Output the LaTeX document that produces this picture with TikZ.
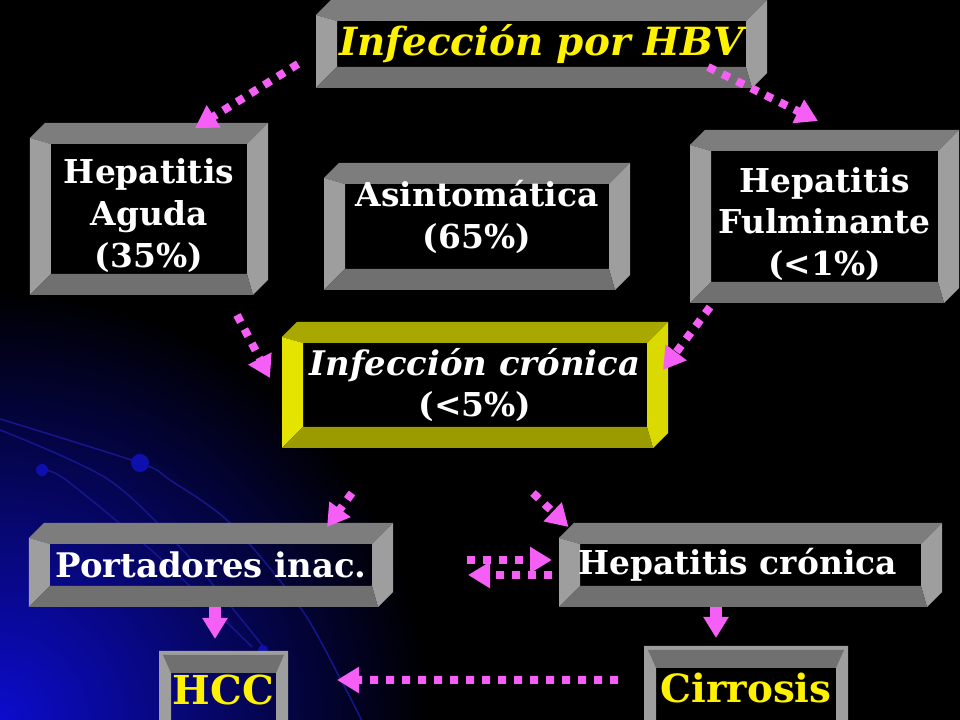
\documentclass[tikz,border=0pt]{standalone}
\usepackage{fontspec}
\setmainfont{DejaVu Serif}
\usetikzlibrary{arrows.meta,calc}

\definecolor{hbvpink}{RGB}{245,95,245}
\definecolor{bgblue}{RGB}{12,12,205}
\definecolor{orbitblue}{RGB}{22,22,140}
\definecolor{frametop}{RGB}{125,125,125}
\definecolor{frameside}{RGB}{158,158,158}
\definecolor{framebottom}{RGB}{112,112,112}
\definecolor{goldtop}{RGB}{168,168,0}
\definecolor{goldleft}{RGB}{228,228,0}
\definecolor{goldright}{RGB}{218,218,0}
\definecolor{goldbottom}{RGB}{155,155,0}

\newcommand{\cubedepth}{15}
\newcommand{\cubeband}{21}

% hollow box seen from the upper right
\newcommand{\cubeframe}[4]{%
  \coordinate (p1) at (path picture bounding box.north west);
  \coordinate (p2) at (path picture bounding box.south east);
  \coordinate (h1) at ($(p1)+(\cubeband,-\cubeband)$);
  \coordinate (h2) at ($(p2)+(-\cubeband,\cubeband)$);
  \fill[#1] ($(p1)+(0,-\cubedepth)$) -- ($(p1)+(\cubedepth,0)$) -- (p2 |- p1) -- (h2 |- h1) -- (h1) -- cycle;
  \fill[#2] ($(p1)+(0,-\cubedepth)$) -- (h1) -- (h1 |- h2) -- (p1 |- p2) -- cycle;
  \fill[#3] (p2 |- p1) -- ($(p2)+(0,\cubedepth)$) -- ($(p2)+(-\cubedepth,0)$) -- (h2) -- (h2 |- h1) -- cycle;
  \fill[#4] (p1 |- p2) -- (h1 |- h2) -- (h2) -- ($(p2)+(-\cubedepth,0)$) -- cycle;
}

% open frame running off the bottom of the slide
\newcommand{\bevelframe}{%
  \coordinate (p1) at (path picture bounding box.north west);
  \coordinate (p2) at (path picture bounding box.south east);
  \coordinate (h1) at ($(p1)+(12,-22)$);
  \coordinate (h2) at ($(p2)+(-12,-20)$);
  \fill[frameside,even odd rule] (p1) rectangle (p2) (h1) rectangle (h2);
  \fill[framebottom] ($(p1)+(4,-4)$) -- ($(p2 |- p1)+(-4,-4)$) -- (h2 |- h1) -- (h1) -- cycle;
}

\begin{document}
\begin{tikzpicture}[x=1bp,y=1bp,
  every node/.style={inner sep=0pt,outer sep=0pt,align=center,text=white,font=\bfseries\fontsize{33}{42}\selectfont},
  cube node/.style={path picture={\cubeframe{frametop}{frameside}{frameside}{framebottom}}},
  gold node/.style={path picture={\cubeframe{goldtop}{goldleft}{goldright}{goldbottom}}},
  base node/.style={path picture={\bevelframe}},
  dot arrow/.style={draw=hbvpink,line width=8bp,dash pattern=on 8bp off 8bp,-{Triangle[length=22bp,width=25bp]}},
  block arrow/.style={draw=hbvpink,line width=12bp,-{Triangle[length=21bp,width=24bp]}}]

  % background
  \useasboundingbox (0,0) rectangle (960,720);
  \clip (-5,-5) rectangle (965,725);
  \fill[black] (-5,-5) rectangle (965,725);
  \shade[inner color=bgblue,outer color=black] (0,0) circle (430);
  \draw[orbitblue,line width=1.5bp] plot[smooth] coordinates {(0,301) (140,257) (170,240) (230,197) (300,113) (341,40) (364,-5)};
  \draw[orbitblue,line width=1.5bp] plot[smooth] coordinates {(0,290) (109,240) (190,162) (266,70)};
  \draw[orbitblue,line width=1.5bp] plot[smooth] coordinates {(42,250) (66,240) (160,162) (252,73)};
  \fill[orbitblue!70!blue] (140,257) circle (9);
  \fill[orbitblue!70!blue] (42,250) circle (6);
  \fill[orbitblue!70!blue] (263,70) circle (5);

  % boxes
  \node[cube node,minimum width=451bp,minimum height=88bp] (hbv) at (541.5,676)
    {\itshape\fontsize{39}{44}\selectfont\textcolor{yellow}{Infección por HBV}};
  \node[cube node,minimum width=238bp,minimum height=172bp] (aguda) at (149,511)
    {\rule{0pt}{38pt}Hepatitis\\Aguda\\(35\%)};
  \node[cube node,minimum width=306bp,minimum height=127bp] (asint) at (477,493.5)
    {\fontsize{33}{46}\selectfont Asintomática\\(65\%)\rule[-24pt]{0pt}{0pt}};
  \node[cube node,minimum width=269bp,minimum height=173bp] (fulm) at (824.5,503.5)
    {\rule{0pt}{40pt}Hepatitis\\Fulminante\\(<1\%)};
  \node[gold node,minimum width=386bp,minimum height=126bp] (cron) at (475,335)
    {\itshape\fontsize{34}{40}\selectfont Infección crónica\\(<5\%)};
  \node[cube node,minimum width=364bp,minimum height=84bp] (port) at (211,155)
    {\fontsize{34}{42}\selectfont Portadores inac.};
  \node[cube node,minimum width=383bp,minimum height=84bp] (hepc) at (750.5,155) {Hepatitis crónica\kern26pt};
  \node[base node,minimum width=129bp,minimum height=74bp] (hcc) at (223.5,32)
    {\rule{0pt}{34pt}\fontsize{40}{44}\selectfont\textcolor{yellow}{HCC}};
  \node[base node,minimum width=204bp,minimum height=79bp] (cirr) at (746,34.5)
    {\rule{0pt}{34pt}\fontsize{39}{44}\selectfont\textcolor{yellow}{Cirrosis}};

  % connectors
  \draw[dot arrow] ([shift={(-18,-20)}]hbv.west) -- ([shift={(46,-5)}]aguda.north);
  \draw[dot arrow] ([shift={(-59,-23)}]hbv.east) -- ([shift={(-6.5,9)}]fulm.north);
  \draw[dot arrow] ([shift={(88,-20)}]aguda.south) -- ([shift={(-12,7)}]cron.west);
  \draw[dot arrow] ([shift={(-114.5,-4)}]fulm.south) -- ([shift={(-5,15)}]cron.east);
  \draw[dot arrow] ([shift={(-123,-45)}]cron.south) -- ([shift={(116,-4)}]port.north);
  \draw[dot arrow] ([shift={(58,-45)}]cron.south) -- ([shift={(-182,-4)}]hepc.north);
  \draw[dot arrow] ([shift={(74,5)}]port.east) -- ([shift={(-7,5)}]hepc.west);
  \draw[dot arrow] ([shift={(-7,-10)}]hepc.west) -- ([shift={(75,-10)}]port.east);
  \draw[block arrow] ([shift={(4,0)}]port.south) -- ([shift={(-8.5,12)}]hcc.north);
  \draw[block arrow] ([shift={(-34.5,0)}]hepc.south) -- ([shift={(-30,8)}]cirr.north);
  \draw[dot arrow] ([shift={(-26,5.5)}]cirr.west) -- ([shift={(49,8)}]hcc.east);
\end{tikzpicture}
\end{document}
